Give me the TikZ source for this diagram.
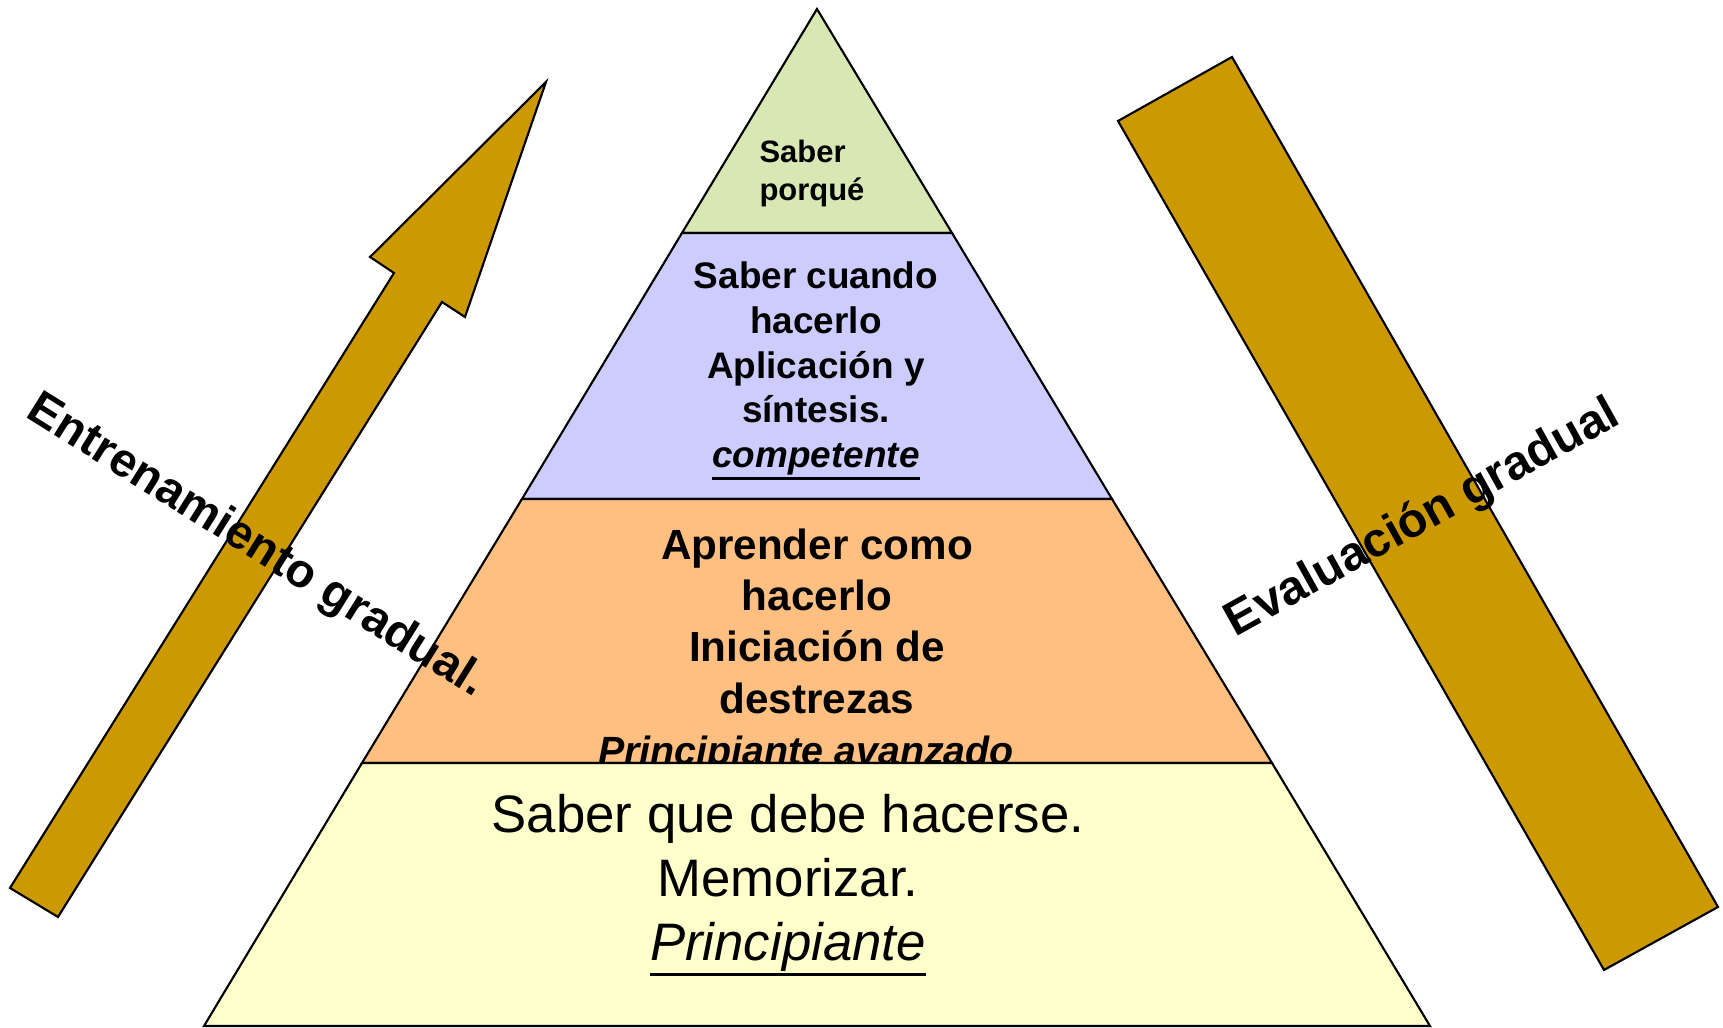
\documentclass[tikz,border=0pt]{standalone}
\usepackage{fontspec}
\setmainfont{Liberation Sans}
\usetikzlibrary{positioning}

\definecolor{topgreen}{HTML}{D8E8B4}
\definecolor{midblue}{HTML}{CCCCFF}
\definecolor{midorange}{HTML}{FFBF80}
\definecolor{baseyellow}{HTML}{FFFFCC}
\definecolor{gold}{HTML}{CC9900}

% underline with a heavier rule
\newcommand{\heavyul}[2][0.7pt]{\leavevmode\vtop{\hbox{#2}\kern0.6pt\hrule height #1}}

\begin{document}
\begin{tikzpicture}[x=0.01cm, y=0.01cm,
    level/.style={draw=black, line width=0.6pt, line join=miter},
    band/.style={draw=black, line width=0.6pt, fill=gold},
    txt/.style={inner sep=0pt, align=center, text=black}]
    \useasboundingbox (0,0) rectangle (1723,1028);

    % arrows
    \draw[band] (10,140) -- (394,755) -- (370,771) -- (546,946)
        -- (465,711) -- (442,726) -- (58,111) -- cycle;
    \draw[band] (1118,907) -- (1232,971) -- (1718,121) -- (1604,58) -- cycle;

    % pyramid
    \coordinate (apex) at (817,1019);
    \coordinate (l1) at (682,795);  \coordinate (r1) at (952,795);
    \coordinate (l2) at (522,529);  \coordinate (r2) at (1112,529);
    \coordinate (l3) at (362,265);  \coordinate (r3) at (1272,265);
    \coordinate (l4) at (204,2);    \coordinate (r4) at (1430,2);

    \draw[level, fill=topgreen] (apex) -- (l1) -- (r1) -- cycle;
    \node[txt, align=left, font=\fontsize{8.8}{10.8}\selectfont\bfseries] (why) at (812,854)
        {Saber\\porqué};

    \draw[level, fill=midblue] (l1) -- (l2) -- (r2) -- (r1) -- cycle;
    \node[txt, font=\fontsize{10.5}{12.7}\selectfont\bfseries] (when) at (816,657)
        {Saber cuando\\hacerlo\\Aplicación y\\síntesis.\\\heavyul{\textit{competente}}};

    \draw[level, fill=midorange] (l2) -- (l3) -- (r3) -- (r2) -- cycle;
    \node[txt, font=\fontsize{12}{14.6}\selectfont\bfseries] (how) at (817,375)
        {Aprender como\\hacerlo\\Iniciación de\\destrezas\\
         {\fontsize{11.2}{14.6}\selectfont\heavyul{\textit{Principiante avanzado}}\hspace*{0.22cm}}};

    \draw[level, fill=baseyellow] (l3) -- (l4) -- (r4) -- (r3) -- cycle;
    \node[txt, font=\fontsize{15}{18.2}\selectfont] (what) at (788,143)
        {Saber que debe hacerse.\\Memorizar.\\\heavyul[0.8pt]{\textit{Principiante}}};

    % side labels
    \node[txt, rotate=-32, font=\fontsize{13.5}{16}\selectfont\bfseries] (training) at (256,481)
        {Entrenamiento gradual.};
    \node[txt, rotate=29, font=\fontsize{13.7}{16}\selectfont\bfseries] (assessment) at (1423,509)
        {Evaluación gradual};
\end{tikzpicture}
\end{document}
